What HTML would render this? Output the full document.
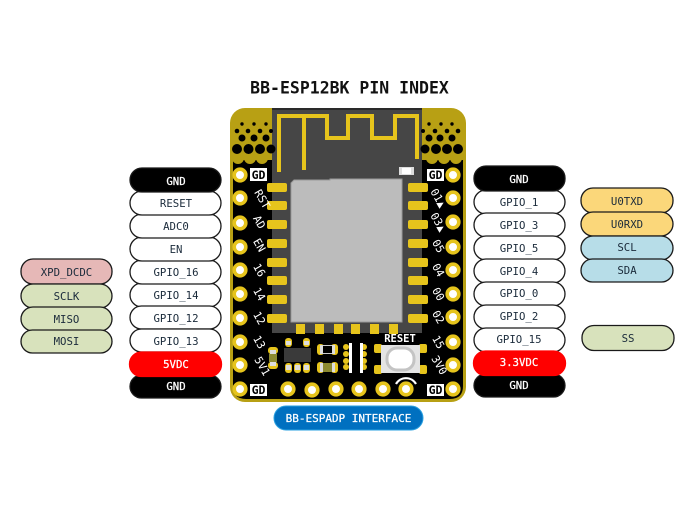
<!DOCTYPE html>
<html><head><meta charset="utf-8">
<style>
html,body{margin:0;padding:0;background:#fff}
svg{display:block}
text{font-family:"DejaVu Sans Mono","Liberation Mono",monospace}
.p{stroke:#1a1a1a;stroke-width:1.3}
.l{font-size:10.7px;text-anchor:middle;fill:#1a2a3a}
.w{font-size:10.7px;text-anchor:middle;fill:#fff;stroke:#fff;stroke-width:.25px}
.s{font-size:11px;fill:#fff;text-anchor:middle}
.h{fill:#000}
.pin{fill:#fff;stroke:#e6c41c;stroke-width:3.6}
.pad{fill:#e6c41c}
</style></head><body>
<svg width="693" height="520" viewBox="0 0 693 520" xmlns="http://www.w3.org/2000/svg">
<rect width="693" height="520" fill="#fff"/>
<text x="349.500" y="93.500" font-size="16.500" font-weight="bold" text-anchor="middle" fill="#111">BB-ESP12BK PIN INDEX</text>

<!-- board -->
<rect x="230" y="108" width="236" height="294" rx="15" fill="#b8a014"/>
<path d="M233 160 L463 160 L463 386 Q463 399 450 399 L246 399 Q233 399 233 386 Z" fill="#000"/>
<g fill="#b8a014">
<circle cx="238" cy="158" r="6"/><circle cx="250" cy="158" r="6"/><circle cx="262" cy="158" r="6"/>
<circle cx="432" cy="158" r="6"/><circle cx="444" cy="158" r="6"/><circle cx="456" cy="158" r="6"/>
</g>
<rect x="272" y="108" width="150" height="225" fill="#464646"/>
<rect x="272" y="108" width="150" height="2" fill="#2a2a2a"/>
<!-- vias -->
<g class="h">
<circle cx="242" cy="124" r="1.700"/><circle cx="254" cy="124" r="1.700"/><circle cx="266" cy="124" r="1.700"/>
<circle cx="237" cy="131" r="2.300"/><circle cx="248" cy="131" r="2.300"/><circle cx="260" cy="131" r="2.300"/><circle cx="271" cy="131" r="2"/>
<circle cx="242" cy="138" r="3.500"/><circle cx="254" cy="138" r="3.500"/><circle cx="266" cy="138" r="3.500"/>
<circle cx="237" cy="149" r="5"/><circle cx="248.500" cy="149" r="5"/><circle cx="260" cy="149" r="5"/><circle cx="271" cy="149" r="4.500"/>
<circle cx="429" cy="124" r="1.700"/><circle cx="441" cy="124" r="1.700"/><circle cx="452" cy="124" r="1.700"/>
<circle cx="423" cy="131" r="2"/><circle cx="435" cy="131" r="2.300"/><circle cx="447" cy="131" r="2.300"/><circle cx="458" cy="131" r="2.300"/>
<circle cx="429" cy="138" r="3.500"/><circle cx="440" cy="138" r="3.500"/><circle cx="452" cy="138" r="3.500"/>
<circle cx="425" cy="149" r="4.500"/><circle cx="436" cy="149" r="5"/><circle cx="447" cy="149" r="5"/><circle cx="458" cy="149" r="5"/>
</g>
<!-- antenna -->
<path d="M279 172 V116 H327 V138 H348 V116 H372 V138 H395 V116 H417 V159 M304 116 V170" fill="none" stroke="#e6c41c" stroke-width="4"/>
<!-- shield -->
<path d="M294 180 H330 V179 H402 V322 H291 V183 Z" fill="#bcbcbc" stroke="#9a9a9a" stroke-width="1"/>
<!-- LED -->
<rect x="399" y="167" width="15" height="8" fill="#ddd"/><rect x="402" y="168" width="9" height="6" fill="#fff"/>
<!-- castellated pads -->
<g class="pad">
<rect x="267" y="183" width="20" height="9" rx="2"/><rect x="267" y="201" width="20" height="9" rx="2"/>
<rect x="267" y="220" width="20" height="9" rx="2"/><rect x="267" y="239" width="20" height="9" rx="2"/>
<rect x="267" y="258" width="20" height="9" rx="2"/><rect x="267" y="276" width="20" height="9" rx="2"/>
<rect x="267" y="295" width="20" height="9" rx="2"/><rect x="267" y="314" width="20" height="9" rx="2"/>
<rect x="408" y="183" width="20" height="9" rx="2"/><rect x="408" y="201" width="20" height="9" rx="2"/>
<rect x="408" y="220" width="20" height="9" rx="2"/><rect x="408" y="239" width="20" height="9" rx="2"/>
<rect x="408" y="258" width="20" height="9" rx="2"/><rect x="408" y="276" width="20" height="9" rx="2"/>
<rect x="408" y="295" width="20" height="9" rx="2"/><rect x="408" y="314" width="20" height="9" rx="2"/>
<rect x="296" y="324" width="9" height="10"/><rect x="315" y="324" width="9" height="10"/>
<rect x="334" y="324" width="9" height="10"/><rect x="351" y="324" width="9" height="10"/>
<rect x="370" y="324" width="9" height="10"/><rect x="389" y="324" width="9" height="10"/>
</g>
<!-- pins -->
<g class="pin">
<circle cx="240" cy="175" r="5.800"/><circle cx="240" cy="198" r="5.800"/><circle cx="240" cy="223" r="5.800"/>
<circle cx="240" cy="247" r="5.800"/><circle cx="240" cy="270" r="5.800"/><circle cx="240" cy="294" r="5.800"/>
<circle cx="240" cy="318" r="5.800"/><circle cx="240" cy="342" r="5.800"/><circle cx="240" cy="365" r="5.800"/><circle cx="240" cy="389" r="5.800"/>
<circle cx="453" cy="175" r="5.800"/><circle cx="453" cy="198" r="5.800"/><circle cx="453" cy="222" r="5.800"/>
<circle cx="453" cy="247" r="5.800"/><circle cx="453" cy="270" r="5.800"/><circle cx="453" cy="294" r="5.800"/>
<circle cx="453" cy="317" r="5.800"/><circle cx="453" cy="342" r="5.800"/><circle cx="453" cy="365" r="5.800"/><circle cx="453" cy="389" r="5.800"/>
<circle cx="288" cy="389" r="5.800"/><circle cx="312" cy="390" r="5.800"/><circle cx="336" cy="389" r="5.800"/>
<circle cx="359" cy="389" r="5.800"/><circle cx="383" cy="389" r="5.800"/><circle cx="406" cy="389" r="5.800"/>
</g>
<!-- GD labels -->
<g>
<rect x="250" y="168" width="17" height="13" fill="#fff"/><rect x="427" y="169" width="17" height="12" fill="#fff"/>
<rect x="250" y="384" width="17" height="12" fill="#fff"/><rect x="427" y="384" width="17" height="12" fill="#fff"/>
<g font-size="11.500" font-weight="bold" text-anchor="middle" fill="#000">
<text x="258.500" y="179">GD</text><text x="435.500" y="179">GD</text>
<text x="258.500" y="394">GD</text><text x="435.500" y="394">GD</text>
</g>
</g>
<!-- rotated labels -->
<g class="s">
<text transform="translate(259,201) rotate(60)">RST</text>
<text transform="translate(256,224) rotate(60)">AD</text>
<text transform="translate(256,247) rotate(60)">EN</text>
<text transform="translate(256,272) rotate(60)">16</text>
<text transform="translate(256,296) rotate(60)">14</text>
<text transform="translate(256,320) rotate(60)">12</text>
<text transform="translate(256,344) rotate(60)">13</text>
<text transform="translate(259,368) rotate(60)">5V1</text>
<text transform="translate(435,200) rotate(60)">01▲</text>
<text transform="translate(435,224) rotate(60)">03▲</text>
<text transform="translate(435,248) rotate(60)">05</text>
<text transform="translate(435,272) rotate(60)">04</text>
<text transform="translate(435,296) rotate(60)">00</text>
<text transform="translate(435,319) rotate(60)">02</text>
<text transform="translate(435,344) rotate(60)">15</text>
<text transform="translate(436,367) rotate(60)">3V0</text>
</g>
<!-- SMD parts -->
<rect x="284" y="348" width="27" height="14" fill="#3a3a3a"/>
<g>
<rect x="285" y="338" width="7" height="9" rx="3" fill="#e6c41c"/><rect x="303" y="338" width="7" height="9" rx="3" fill="#e6c41c"/>
<rect x="285" y="363" width="7" height="10" rx="3" fill="#e6c41c"/><rect x="294" y="363" width="7" height="10" rx="3" fill="#e6c41c"/><rect x="303" y="363" width="7" height="10" rx="3" fill="#e6c41c"/>
<rect x="286" y="341" width="5" height="4" fill="#ddd"/><rect x="304" y="341" width="5" height="4" fill="#ddd"/>
<rect x="286" y="365" width="5" height="5" fill="#ddd"/><rect x="295" y="365" width="5" height="5" fill="#ddd"/><rect x="304" y="365" width="5" height="5" fill="#ddd"/>
</g>
<rect x="268" y="347" width="10" height="7" rx="3" fill="#e6c41c"/><rect x="268" y="362" width="10" height="7" rx="3" fill="#e6c41c"/>
<rect x="270" y="350" width="6" height="16" fill="#ddd"/><rect x="269" y="354" width="8" height="8" fill="#8c8a30"/>
<rect x="317" y="344" width="7" height="11" rx="3" fill="#e6c41c"/><rect x="331" y="344" width="7" height="11" rx="3" fill="#e6c41c"/>
<rect x="320" y="345" width="15" height="9" fill="#ddd"/><rect x="323" y="345" width="9" height="9" fill="#000"/><rect x="323" y="345" width="9" height="1" fill="#ccc"/><rect x="323" y="353" width="9" height="1" fill="#ccc"/>
<rect x="317" y="362" width="7" height="11" rx="3" fill="#e6c41c"/><rect x="331" y="362" width="7" height="11" rx="3" fill="#e6c41c"/>
<rect x="320" y="363" width="15" height="9" fill="#ddd"/><rect x="323" y="363" width="9" height="9" fill="#8c8a30"/>
<g fill="#e6c41c">
<circle cx="346" cy="347" r="3"/><circle cx="346" cy="354" r="3"/><circle cx="346" cy="361" r="3"/><circle cx="346" cy="367" r="3"/>
<circle cx="364" cy="347" r="3"/><circle cx="364" cy="354" r="3"/><circle cx="364" cy="361" r="3"/><circle cx="364" cy="367" r="3"/>
</g>
<rect x="349" y="343" width="3" height="30" fill="#fff"/><rect x="360" y="343" width="3" height="30" fill="#fff"/>
<!-- reset -->
<text x="400" y="342" font-size="10.500" font-weight="bold" fill="#fff" text-anchor="middle">RESET</text>
<rect x="374" y="344" width="8" height="9" rx="2" fill="#e6c41c"/><rect x="419" y="344" width="8" height="9" rx="2" fill="#e6c41c"/>
<rect x="374" y="365" width="8" height="9" rx="2" fill="#e6c41c"/><rect x="419" y="365" width="8" height="9" rx="2" fill="#e6c41c"/>
<rect x="381" y="345" width="39" height="28" fill="#e4e4e4"/>
<rect x="387" y="348" width="27" height="22" rx="10" fill="#fff" stroke="#c4c4c4" stroke-width="3"/>
<path d="M396 384 A11.500 11.500 0 0 1 416 384" fill="none" stroke="#fff" stroke-width="2.200"/>

<!-- left col -->
<g class="p">
<rect x="130" y="283" width="91" height="24" rx="12" fill="#fff"/>
<rect x="130" y="306" width="91" height="23" rx="11.500" fill="#fff"/>
<rect x="130" y="329" width="91" height="23" rx="11.500" fill="#fff"/>
<rect x="130" y="260" width="91" height="24" rx="12" fill="#fff"/>
<rect x="130" y="237" width="91" height="24" rx="12" fill="#fff"/>
<rect x="130" y="214" width="91" height="24" rx="12" fill="#fff"/>
<rect x="130" y="191" width="91" height="24" rx="12" fill="#fff"/>
<rect x="130" y="168" width="91" height="24" rx="12" fill="#000"/>
<rect x="130" y="375" width="91" height="23" rx="11.500" fill="#000"/>
<rect x="129.500" y="352" width="92" height="24.500" rx="12" fill="#f00" stroke="#f00"/>
</g>
<text class="w" x="176" y="185">GND</text>
<text class="l" x="176" y="207">RESET</text>
<text class="l" x="176" y="230">ADC0</text>
<text class="l" x="176" y="253">EN</text>
<text class="l" x="176" y="276">GPIO_16</text>
<text class="l" x="176" y="299">GPIO_14</text>
<text class="l" x="176" y="322">GPIO_12</text>
<text class="l" x="176" y="345">GPIO_13</text>
<text class="w" x="176" y="368">5VDC</text>
<text class="w" x="176" y="390">GND</text>

<!-- far left -->
<g class="p">
<rect x="21" y="259" width="91" height="25" rx="12" fill="#e6b8b7"/>
<rect x="21" y="284" width="91" height="24" rx="12" fill="#d8e2bc"/>
<rect x="21" y="307" width="91" height="24" rx="12" fill="#d8e2bc"/>
<rect x="21" y="330" width="91" height="23" rx="11.500" fill="#d8e2bc"/>
</g>
<text class="l" x="66.500" y="276">XPD_DCDC</text>
<text class="l" x="66.500" y="300">SCLK</text>
<text class="l" x="66.500" y="323">MISO</text>
<text class="l" x="66.500" y="345">MOSI</text>

<!-- right col -->
<g class="p">
<rect x="474" y="190" width="91" height="24" rx="12" fill="#fff"/>
<rect x="474" y="213" width="91" height="24" rx="12" fill="#fff"/>
<rect x="474" y="236" width="91" height="24" rx="12" fill="#fff"/>
<rect x="474" y="259" width="91" height="24" rx="12" fill="#fff"/>
<rect x="474" y="282" width="91" height="24" rx="12" fill="#fff"/>
<rect x="474" y="305" width="91" height="24" rx="12" fill="#fff"/>
<rect x="474" y="328" width="91" height="24" rx="12" fill="#fff"/>
<rect x="474" y="166" width="91" height="25" rx="12" fill="#000"/>
<rect x="474" y="374" width="91" height="23" rx="11.500" fill="#000"/>
<rect x="473.500" y="351" width="92" height="24.500" rx="12" fill="#f00" stroke="#f00"/>
</g>
<text class="w" x="519" y="183">GND</text>
<text class="l" x="519" y="206">GPIO_1</text>
<text class="l" x="519" y="229">GPIO_3</text>
<text class="l" x="519" y="252">GPIO_5</text>
<text class="l" x="519" y="275">GPIO_4</text>
<text class="l" x="519" y="297">GPIO_0</text>
<text class="l" x="519" y="320">GPIO_2</text>
<text class="l" x="519" y="343">GPIO_15</text>
<text class="w" x="519" y="366">3.3VDC</text>
<text class="w" x="519" y="389">GND</text>

<!-- far right -->
<g class="p">
<rect x="581" y="188" width="92" height="25" rx="12" fill="#fbd77a"/>
<rect x="581" y="212" width="92" height="24" rx="12" fill="#fbd77a"/>
<rect x="581" y="236" width="92" height="24" rx="12" fill="#b7dde8"/>
<rect x="581" y="259" width="92" height="23" rx="11.500" fill="#b7dde8"/>
<rect x="582" y="325.500" width="92" height="25" rx="12" fill="#d8e2bc"/>
</g>
<text class="l" x="627" y="205">U0TXD</text>
<text class="l" x="627" y="228">U0RXD</text>
<text class="l" x="627" y="251">SCL</text>
<text class="l" x="627" y="274">SDA</text>
<text class="l" x="628" y="342">SS</text>

<!-- interface -->
<rect x="274" y="406" width="149" height="24" rx="12" fill="#0070c0" stroke="#2aa0e0" stroke-width="1"/>
<text x="348.500" y="422" font-size="11" fill="#fff" stroke="#fff" stroke-width=".25" text-anchor="middle">BB-ESPADP INTERFACE</text>
</svg>
</body></html>
